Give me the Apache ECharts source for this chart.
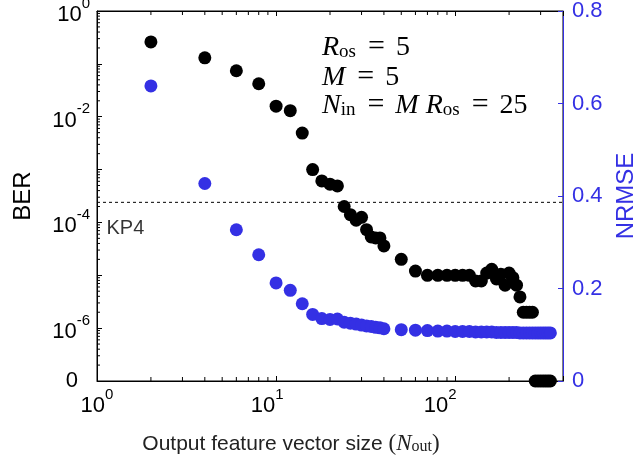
<!DOCTYPE html>
<html>
<head>
<meta charset="utf-8">
<script src="https://cdn.jsdelivr.net/npm/echarts@6/dist/echarts.min.js"></script>
<style>
  html, body { margin: 0; padding: 0; background: #fff; }
  #chart { width: 634px; height: 461px; }
</style>
</head>
<body>
<div id="chart"></div>
<script>
// output feature vector size N_out
const nOut = [2, 4, 6, 8, 10, 12, 14, 16, 18, 20, 22, 24, 26, 28, 30, 32, 34, 36, 38, 40,
  50, 60, 70, 80, 90, 100, 110, 120, 130, 140,
  150, 160, 170, 180, 190, 200, 210, 220, 230, 240,
  250, 260, 270, 280, 290, 300, 310, 320, 330, 340];
// bit error rate (0 = no errors)
const ber = [0.26, 0.13, 0.074, 0.042, 0.0158, 0.013, 0.0049, 1.0e-3, 6.1e-4, 5.3e-4,
  4.9e-4, 2.0e-4, 1.4e-4, 1.1e-4, 1.25e-4, 7.3e-5, 5.3e-5, 5.1e-5, 5.1e-5, 3.6e-5,
  2.0e-5, 1.2e-5, 1.0e-5, 1.0e-5, 1.0e-5, 1.0e-5, 1.0e-5, 1.0e-5, 7.8e-6, 7.8e-6,
  1.1e-5, 1.3e-5, 8.5e-6, 1.05e-5, 6.5e-6, 1.1e-5, 9e-6, 6.5e-6, 3.9e-6, 2e-6,
  2e-6, 2e-6, 2e-6, 0, 0, 0, 0, 0, 0, 0];
// normalised RMSE (right axis)
const nrmse = [0.638, 0.427, 0.327, 0.273, 0.212, 0.196, 0.167, 0.144, 0.135, 0.133,
  0.134, 0.127, 0.125, 0.123, 0.121, 0.119, 0.118, 0.116, 0.115, 0.113,
  0.111, 0.110, 0.109, 0.108, 0.108, 0.107, 0.107, 0.107, 0.106, 0.106,
  0.106, 0.106, 0.105, 0.105, 0.105, 0.105, 0.105, 0.105, 0.104, 0.104,
  0.104, 0.104, 0.104, 0.104, 0.104, 0.104, 0.104, 0.104, 0.104, 0.104];

const kp4Limit = 2.4e-4;     // KP4 FEC threshold
const berZeroAt = 1e-7;      // where BER = 0 is drawn (labelled "0")
const xMin = 1, xMax = 400;
const nrmseTicks = [0, 0.2, 0.4, 0.6, 0.8];

const BLUE = '#3430e4';

// log minor ticks (2..9 per decade)
const xMinorTicks = [];
for (let d = 0; d <= 2; d++) {
  for (let k = 2; k <= 9; k++) {
    const v = k * Math.pow(10, d);
    if (v < xMax) xMinorTicks.push([v, berZeroAt]);
  }
}
const yMinorTicks = [];
for (let d = -7; d <= -1; d++) {
  for (let k = 2; k <= 9; k++) yMinorTicks.push([xMin, k * Math.pow(10, d)]);
}

const berPlot = nOut.map((n, i) => [n, ber[i] > 0 ? ber[i] : berZeroAt]);
const nrmsePlot = nOut.map((n, i) => [n, nrmse[i]]);

function expOf(v) {
  const e = Math.log10(v);
  const r = Math.round(e);
  return Math.abs(e - r) < 1e-6 ? r : null;
}

const tickRich = {
  b: { fontFamily: 'Liberation Sans', fontSize: 22, lineHeight: 30, verticalAlign: 'bottom', color: '#000' },
  sup: { fontFamily: 'Liberation Sans', fontSize: 15, lineHeight: 15, verticalAlign: 'top', color: '#000' },
  z: { fontFamily: 'Liberation Sans', fontSize: 22, lineHeight: 30, color: '#000', padding: [0, 12, 0, 0] },
  g1: { fontSize: 10, width: 18 },
  g2: { fontSize: 10, width: 30 }
};

const mathRich = {
  i: { fontFamily: 'Liberation Serif', fontStyle: 'italic', fontSize: 28, lineHeight: 30, verticalAlign: 'bottom', color: '#000' },
  r: { fontFamily: 'Liberation Serif', fontSize: 28, lineHeight: 30, verticalAlign: 'bottom', color: '#000' },
  e: { fontFamily: 'Liberation Serif', fontSize: 30, lineHeight: 30, verticalAlign: 'bottom', color: '#000', padding: [0, 11, 0, 12] },
  s: { fontFamily: 'Liberation Serif', fontSize: 19, lineHeight: 19, verticalAlign: 'bottom', color: '#000' }
};

const myChart = echarts.init(document.getElementById('chart'));

const option = {
  backgroundColor: '#fff',
  animation: false,
  grid: {
    left: 97, top: 11, width: 466, height: 370, outerBoundsMode: 'none',
    show: true, borderColor: '#000', borderWidth: 1, backgroundColor: 'transparent'
  },
  xAxis: [
    {
      type: 'log', min: xMin, max: xMax, splitNumber: 3,
      axisLine: { show: true, onZero: false, lineStyle: { color: '#000' } },
      axisTick: { show: true, inside: true, length: 5 },
      splitLine: { show: false },
      axisLabel: {
        margin: 6,
        formatter: v => {
          const e = expOf(v);
          if (e === null) return '';
          return '{b|10}{sup|' + e + '}' + (e === 1 ? '{g1| }' : e === 2 ? '{g2| }' : '');
        },
        rich: tickRich
      },
      name: '{a|Output feature vector size }{p|(}{i|N}{s|out}{p|)}',
      nameLocation: 'middle', nameGap: 44,
      nameTextStyle: {
        padding: [0, 78, 0, 0],
        rich: {
          a: { fontFamily: 'Liberation Sans', fontSize: 21, lineHeight: 30, verticalAlign: 'bottom', color: '#222' },
          p: { fontFamily: 'Liberation Serif', fontSize: 23, lineHeight: 30, verticalAlign: 'bottom', color: '#222' },
          i: { fontFamily: 'Liberation Serif', fontStyle: 'italic', fontSize: 23, lineHeight: 30, verticalAlign: 'bottom', color: '#222' },
          s: { fontFamily: 'Liberation Serif', fontSize: 16, lineHeight: 16, verticalAlign: 'bottom', color: '#222' }
        }
      }
    },
    {
      type: 'log', min: xMin, max: xMax, position: 'top', splitNumber: 3,
      axisLine: { show: true, onZero: false, lineStyle: { color: '#000' } },
      axisTick: { show: true, inside: true, length: 5 },
      axisLabel: { show: false },
      splitLine: { show: false }
    }
  ],
  yAxis: [
    {
      type: 'log', min: berZeroAt, max: 1, splitNumber: 7,
      axisLine: { show: true, onZero: false, lineStyle: { color: '#000' } },
      axisTick: { show: true, inside: true, length: 5 },
      splitLine: { show: false },
      axisLabel: {
        margin: 7,
        formatter: v => {
          const e = expOf(v);
          if (e === -7) return '{z|0}';
          if (e === null || e % 2 !== 0) return '';
          return '{b|10}{sup|' + e + '}';
        },
        rich: tickRich
      },
      name: 'BER', nameLocation: 'middle', nameGap: 62, nameRotate: 90,
      nameTextStyle: { fontFamily: 'Liberation Sans', fontSize: 24, color: '#000' }
    },
    {
      type: 'value', min: 0, max: 0.8, interval: 0.2, position: 'right',
      axisLine: { show: true, onZero: false, lineStyle: { color: BLUE } },
      axisTick: { show: true, inside: true, length: 5 },
      splitLine: { show: false },
      axisLabel: {
        margin: 9, color: BLUE, fontFamily: 'Liberation Sans', fontSize: 22,
        formatter: v => nrmseTicks.indexOf(+v.toFixed(1)) >= 0 ? (v === 0 ? '0' : v.toFixed(1)) : ''
      },
      name: 'NRMSE', nameLocation: 'middle', nameGap: 51, nameRotate: 90,
      nameTextStyle: { fontFamily: 'Liberation Sans', fontSize: 24, color: BLUE }
    }
  ],
  graphic: [
    { type: 'text', left: 322, top: 32, style: { text: '{i|R}{s|os}{e|=}{r|5}', rich: mathRich } },
    { type: 'text', left: 322, top: 62, style: { text: '{i|M}{e|=}{r|5}', rich: mathRich } },
    { type: 'text', left: 322, top: 90, style: { text: '{i|N}{s|in}{e|=}{i|M R}{s|os}{e|=}{r|25}', rich: mathRich } }
  ],
  series: [
    {
      name: 'x minor ticks', type: 'custom', silent: true, clip: false, z: 5,
      data: xMinorTicks,
      renderItem: (params, api) => {
        const b = api.coord([api.value(0), berZeroAt]);
        const t = api.coord([api.value(0), 1]);
        return { type: 'group', children: [
          { type: 'line', shape: { x1: b[0], y1: b[1], x2: b[0], y2: b[1] - 4 }, style: { stroke: '#000', lineWidth: 1 } },
          { type: 'line', shape: { x1: t[0], y1: t[1], x2: t[0], y2: t[1] + 4 }, style: { stroke: '#000', lineWidth: 1 } }
        ] };
      }
    },
    {
      name: 'y minor ticks', type: 'custom', silent: true, clip: false, z: 5,
      data: yMinorTicks,
      renderItem: (params, api) => {
        const l = api.coord([xMin, api.value(1)]);
        return { type: 'line', shape: { x1: l[0], y1: l[1], x2: l[0] + 3, y2: l[1] }, style: { stroke: '#000', lineWidth: 1 } };
      }
    },
    {
      name: 'KP4', type: 'line', silent: true, symbol: 'none', z: 1,
      lineStyle: { color: '#000', type: [3, 3], width: 1 },
      data: [[xMin, kp4Limit], [xMax, kp4Limit]]
    },
    {
      name: 'KP4 label', type: 'scatter', silent: true, z: 6,
      symbolSize: 1, itemStyle: { color: 'rgba(0,0,0,0)' },
      label: {
        show: true, formatter: 'KP4', position: 'right', distance: 0, offset: [9, 26],
        fontFamily: 'Liberation Sans', fontSize: 20, color: '#000'
      },
      data: [[xMin, kp4Limit]]
    },
    {
      name: 'NRMSE', type: 'scatter', yAxisIndex: 1, data: nrmsePlot,
      symbol: 'circle', symbolSize: 13, itemStyle: { color: BLUE, opacity: 1 }, z: 2
    },
    {
      name: 'BER', type: 'scatter', yAxisIndex: 0, data: berPlot,
      symbol: 'circle', symbolSize: 13, itemStyle: { color: '#000', opacity: 1 }, z: 3
    }
  ]
};

myChart.setOption(option);
window.addEventListener('resize', () => myChart.resize());
</script>
</body>
</html>
